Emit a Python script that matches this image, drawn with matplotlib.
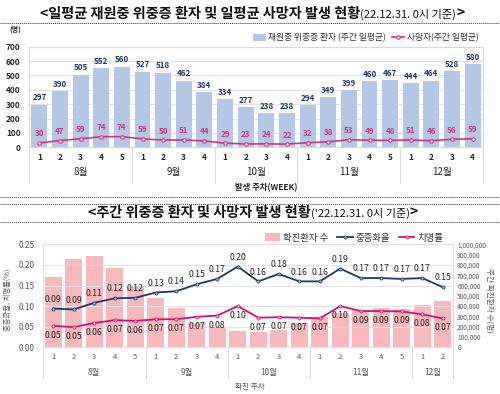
import numpy as np
import matplotlib
matplotlib.use("Agg")
import matplotlib.pyplot as plt
import matplotlib.transforms as mtransforms

plt.rcParams['font.family'] = ['Noto Sans CJK KR', 'DejaVu Sans']

# ---- data: top chart (daily average, weekly) ----
top_months = ["8월", "9월", "10월", "11월", "12월"]
top_weeks_per_month = [5, 4, 4, 5, 4]
severe_patients = [297, 390, 505, 552, 560, 527, 518, 462, 384, 334, 277,
                   238, 238, 294, 349, 399, 460, 467, 444, 464, 528, 580]
deaths = [30, 47, 59, 74, 74, 59, 50, 51, 44, 29, 23,
          24, 22, 32, 38, 53, 49, 48, 51, 46, 56, 59]

# ---- data: bottom chart (weekly) ----
bot_months = ["8월", "9월", "10월", "11월", "12월"]
bot_weeks_per_month = [5, 4, 4, 5, 2]
confirmed = [680000, 854000, 889000, 767000, 598000, 482000, 385000, 239000,
             200000, 158000, 146000, 165000, 236000, 291000, 337000, 359000,
             382000, 369000, 414000, 453000]
severity_rate = [0.094, 0.092, 0.108, 0.119, 0.120, 0.133, 0.136, 0.153,
                 0.166, 0.196, 0.160, 0.178, 0.160, 0.160, 0.191, 0.168,
                 0.168, 0.166, 0.168, 0.146]
fatality_rate = [0.052, 0.049, 0.059, 0.066, 0.064, 0.068, 0.068, 0.074,
                 0.077, 0.100, 0.072, 0.073, 0.072, 0.070, 0.100, 0.088,
                 0.088, 0.087, 0.080, 0.070]

W, H = 500, 394
fig = plt.figure(figsize=(5, 3.94), dpi=100)
bg = fig.add_axes([0, 0, 1, 1])
bg.axis('off')
bg.set_xlim(0, W)
bg.set_ylim(H, 0)


def fx(px):
    return px / W


def fy(py):
    return 1 - py / H


def dotted(y):
    bg.plot([0, W], [y, y], color='#333333', lw=0.7, ls=(0, (1, 1)))


def title(x, y, big, small):
    t = bg.text(x, y, big, fontsize=10.2, fontweight='bold',
                ha='left', va='bottom', color='#111111')
    t2 = bg.annotate(small, xy=(1, 0.1), xycoords=t, ha='left', va='bottom',
                     fontsize=8, color='#111111')
    bg.annotate(">", xy=(1, -0.05), xycoords=t2, ha='left', va='bottom',
                fontsize=10.2, fontweight='bold', color='#111111')


def week_axis(ax, weeks_per_month, months, n, month_y, sep_y, fs_week, fs_month, col):
    labels = []
    for k in weeks_per_month:
        labels += [str(i + 1) for i in range(k)]
    ax.set_xticks(np.arange(n))
    ax.set_xticklabels(labels, fontsize=fs_week, color=col)
    ax.tick_params(axis='x', length=0, pad=4)
    trans = mtransforms.blended_transform_factory(ax.transData, ax.transAxes)
    start = 0
    bounds = [-0.5]
    for k, m in zip(weeks_per_month, months):
        ax.text(start + (k - 1) / 2, month_y, m, transform=trans, ha='center',
                va='center', fontsize=fs_month, color=col)
        start += k
        bounds.append(start - 0.5)
    for b in bounds:
        ax.plot([b, b], [0, sep_y], transform=trans, color='#d9d9d9', lw=0.8,
                clip_on=False)


# ================= top chart =================
title(40, 21, "<일평균 재원중 위중증 환자 및 일평균 사망자 발생 현황", "(22.12.31. 0시 기준)")
dotted(23)

ax1 = fig.add_axes([fx(29), fy(147.3), fx(483 - 29), (147.3 - 46.7) / H])
n1 = len(severe_patients)
x1 = np.arange(n1)
bar_col = '#b4c7e7'
line_col = '#d9307e'
bars = ax1.bar(x1, severe_patients, width=0.77, color=bar_col, zorder=2,
               label='재원중 위중증 환자 (주간 일평균)')
ln, = ax1.plot(x1, deaths, color=line_col, lw=1.2, marker='o', ms=2.5,
               mfc='white', mec=line_col, mew=0.8, zorder=3,
               label='사망자(주간 일평균)')
for xi, v in zip(x1, severe_patients):
    ax1.annotate(str(v), (xi, v), xytext=(0, 5), textcoords='offset points',
                 ha='center', va='center', fontsize=5.8, fontweight='bold',
                 color='#203864')
for xi, v in zip(x1, deaths):
    ax1.annotate(str(v), (xi, v), xytext=(0, 6.5), textcoords='offset points',
                 ha='center', va='center', fontsize=5.8, fontweight='bold',
                 color=line_col)
ax1.set_xlim(-0.5, n1 - 0.5)
ax1.set_ylim(0, 700)
ax1.set_yticks(range(0, 701, 100))
ax1.tick_params(axis='y', length=0, labelsize=6, pad=6)
for lab in ax1.get_yticklabels():
    lab.set_fontweight('bold')
    lab.set_color('#262626')
ax1.grid(axis='y', color='#e3e3e3', lw=0.7, zorder=0)
for s in ax1.spines.values():
    s.set_color('#d9d9d9')
    s.set_linewidth(0.8)
week_axis(ax1, top_weeks_per_month, top_months, n1, -0.245, -0.35, 6, 7, '#262626')
for lab in ax1.get_xticklabels():
    lab.set_fontweight('bold')
bg.text(15, 29, "(명)", fontsize=5, fontweight='bold', ha='center',
        va='center', color='#262626')
bg.text(266, 188, "발생 주차(WEEK)", fontsize=6, fontweight='bold',
        ha='center', va='center', color='#262626')
ax1.legend(handles=[bars, ln], loc='center', bbox_to_anchor=(fx(366), fy(38)),
           bbox_transform=fig.transFigure, ncol=2, frameon=False, fontsize=6.3,
           handlelength=1.4, handleheight=0.9, handletextpad=0.3,
           columnspacing=0.7, labelcolor='#333333')

# ================= bottom chart =================
dotted(197)
dotted(204)
title(88, 220, "<주간 위중증 환자 및 사망자 발생 현황", "('22.12.31. 0시 기준)")
dotted(222)

ax2 = fig.add_axes([fx(43), fy(347.3), fx(453 - 43), (347.3 - 244.3) / H])
ax2r = ax2.twinx()
n2 = len(confirmed)
x2 = np.arange(n2)
pink = '#f8b8be'
navy = '#203864'
mag = '#d6106f'
cb = ax2r.bar(x2, confirmed, width=0.83, color=pink, zorder=1, label='확진환자 수')
ax2r.set_ylim(0, 1000000)
ax2r.set_yticks(range(0, 1000001, 100000))
ax2r.set_yticklabels(["0"] + [f"{v:,}" for v in range(100000, 1000001, 100000)])
ax2r.tick_params(axis='y', length=0, labelsize=4.6, labelcolor='#595959', pad=3,
                 labelleft=False, left=False)
bg.text(489, 300, "주간 확진환자 수(명)", rotation=270, fontsize=5.5,
        color='#595959', ha='center', va='center')

ax2.set_zorder(ax2r.get_zorder() + 1)
ax2.patch.set_visible(False)
sl, = ax2.plot(x2, severity_rate, color=navy, lw=1.3, marker='o', ms=2.3,
               mfc='#8faadc', mec=navy, mew=0.5, label='중증화율', zorder=3)
fl, = ax2.plot(x2, fatality_rate, color=mag, lw=1.3, marker='o', ms=2.3,
               mfc='#f4a6c6', mec=mag, mew=0.5, label='치명률', zorder=3)
for xi, v in zip(x2, severity_rate):
    ax2.annotate(f"{v:.2f}", (xi, v), xytext=(0, 6.7), textcoords='offset points',
                 ha='center', va='center', fontsize=6.3, color='#262626')
for xi, v in zip(x2, fatality_rate):
    ax2.annotate(f"{v:.2f}", (xi, v), xytext=(0, -6.8), textcoords='offset points',
                 ha='center', va='center', fontsize=6.3, color='#262626')
ax2.set_xlim(-0.5, n2 - 0.5)
ax2.set_ylim(0, 0.25)
ax2.set_yticks(np.arange(0, 0.251, 0.05))
ax2.set_yticklabels([f"{v:.2f}" for v in np.arange(0, 0.251, 0.05)])
ax2.tick_params(axis='y', length=0, labelsize=6, labelcolor='#595959', pad=6,
                labelright=False, right=False)
ax2.grid(axis='y', color='#e3e3e3', lw=0.7)
bg.text(8, 300, "중증화율, 치명률(%)", rotation=90, fontsize=5.3,
        color='#595959', ha='center', va='center')
for a in (ax2, ax2r):
    for s in a.spines.values():
        s.set_color('#e0e0e0')
        s.set_linewidth(0.8)
week_axis(ax2, bot_weeks_per_month, bot_months, n2, -0.24, -0.3, 5.5, 6, '#595959')
bg.text(250, 387, "확진 주차", fontsize=5.5, ha='center', va='center',
        color='#595959')
ax2.legend(handles=[cb, sl, fl], loc='center', bbox_to_anchor=(fx(354), fy(238)),
           bbox_transform=fig.transFigure, ncol=3, frameon=False, fontsize=6.8,
           handlelength=1.6, handleheight=0.9, handletextpad=0.3,
           columnspacing=1.0, labelcolor='#333333')

fig.savefig("out.png", dpi=100)
